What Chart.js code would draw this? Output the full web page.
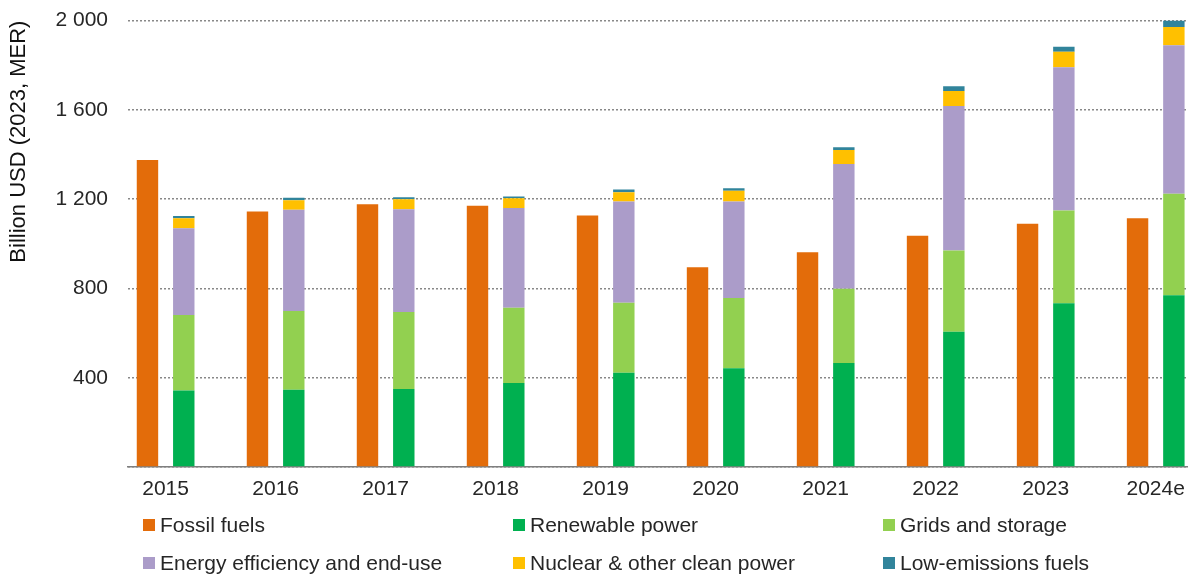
<!DOCTYPE html>
<html>
<head>
<meta charset="utf-8">
<script src="https://cdn.jsdelivr.net/npm/chart.js@4/dist/chart.umd.min.js"></script>
<style>
  html, body { margin: 0; padding: 0; background: #fff; overflow: hidden; }
  #wrap { position: relative; width: 1195px; height: 575px; font-family: "Liberation Sans", Arial, sans-serif; }
  #chartBox { position: absolute; left: 0; top: -12px; width: 1195px; height: 517px; }
  #legend { position: absolute; left: 0; top: 0; width: 1195px; height: 575px; pointer-events: none; }
  .item { position: absolute; display: flex; align-items: center; height: 24px; font-size: 21px; color: #262626; white-space: nowrap; }
  .item span.box { display: inline-block; width: 12px; height: 12px; margin-right: 5px; }
</style>
</head>
<body>
<div id="wrap">
  <div id="chartBox"><canvas id="chart"></canvas></div>
  <div id="legend"></div>
</div>
<script>
const years = ['2015', '2016', '2017', '2018', '2019', '2020', '2021', '2022', '2023', '2024e'];

const fossil     = [1376, 1145, 1177, 1170, 1127, 895, 962, 1036, 1090, 1115];
const renewable  = [343, 346, 350, 376, 422, 442, 466, 606, 734, 769];
const grids      = [338, 353, 345, 337, 314, 315, 333, 364, 415, 455];
const efficiency = [389, 453, 460, 447, 453, 432, 558, 647, 642, 666];
const nuclear    = [45, 43, 45, 44, 42, 49, 63, 68, 69, 81];
const lowEmis    = [9, 11, 8, 8, 12, 11, 13, 21, 23, 30];

const yTicks = [0, 400, 800, 1200, 1600, 2000];

const series = [
  { label: 'Fossil fuels', data: fossil, color: '#E36C0A', stack: 'fossil' },
  { label: 'Renewable power', data: renewable, color: '#00B050', stack: 'clean' },
  { label: 'Grids and storage', data: grids, color: '#92D050', stack: 'clean' },
  { label: 'Energy efficiency and end-use', data: efficiency, color: '#AB9CC9', stack: 'clean' },
  { label: 'Nuclear & other clean power', data: nuclear, color: '#FFC000', stack: 'clean' },
  { label: 'Low-emissions fuels', data: lowEmis, color: '#31849B', stack: 'clean' }
];

// legend slots (3 columns x 2 rows)
const legendPos = [
  [143, 525], [513, 525], [883, 525],
  [143, 563], [513, 563], [883, 563]
];

const fmt = v => v === 0 ? '' : (v >= 1000 ? Math.floor(v / 1000) + ' ' + String(v % 1000).padStart(3, '0') : String(v));

const ctx = document.getElementById('chart').getContext('2d');
const chart = new Chart(ctx, {
  type: 'bar',
  data: {
    datasets: series.map(s => ({
      label: s.label,
      data: s.data.map((v, i) => ({ x: i, y: v })),
      backgroundColor: s.color,
      stack: s.stack,
      categoryPercentage: 0.66,
      barPercentage: 0.59,
      borderWidth: 0
    }))
  },
  options: {
    responsive: true,
    maintainAspectRatio: false,
    animation: false,
    layout: { padding: { left: 0, right: 3, top: 0, bottom: 0 } },
    plugins: {
      legend: { display: false },
      tooltip: { enabled: false }
    },
    scales: {
      x: {
        type: 'linear',
        stacked: true,
        offset: false,
        min: -0.342,
        max: 9.29,
        afterBuildTicks: s => { s.ticks = years.map((_, i) => ({ value: i })); },
        afterFit: s => { s.height = 38; },
        grid: { display: false, drawTicks: false, offset: false },
        border: { display: true, color: '#7f7f7f', width: 1.5 },
        ticks: {
          padding: 10,
          color: '#262626',
          font: { family: 'Liberation Sans', size: 21 },
          autoSkip: false,
          maxRotation: 0,
          callback: v => years[v]
        }
      },
      y: {
        stacked: true,
        min: 0,
        max: 2000,
        afterBuildTicks: s => { s.ticks = yTicks.map(v => ({ value: v })); },
        afterFit: s => { s.width = 128; },
        grid: {
          color: '#888888',
          lineWidth: 1.5,
          drawTicks: false
        },
        border: { display: false, dash: [2, 2] },
        ticks: {
          padding: 20,
          color: '#262626',
          font: { family: 'Liberation Sans', size: 21 },
          callback: v => fmt(v)
        },
        title: {
          display: true,
          text: 'Billion USD (2023, MER)',
          align: 'end',
          color: '#111',
          font: { family: 'Liberation Sans', size: 22 },
          padding: { top: 6, bottom: 0 }
        }
      }
    }
  }
});

const legend = document.getElementById('legend');
series.forEach((s, i) => {
  const el = document.createElement('div');
  el.className = 'item';
  el.style.left = legendPos[i][0] + 'px';
  el.style.top = (legendPos[i][1] - 12) + 'px';
  el.innerHTML = '<span class="box" style="background:' + s.color + '"></span>' + s.label;
  legend.appendChild(el);
});
</script>
</body>
</html>
